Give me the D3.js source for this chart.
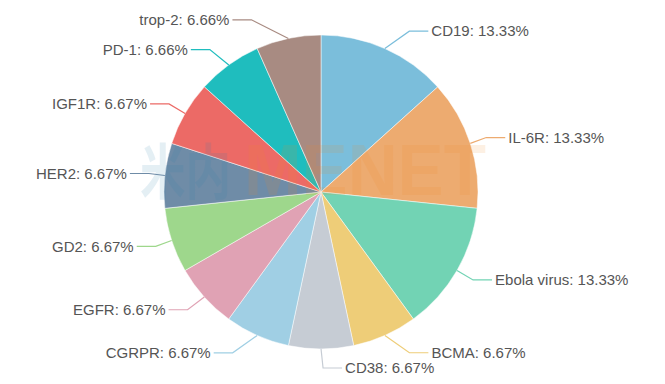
<!DOCTYPE html>
<html>
<head>
<meta charset="utf-8">
<script src="https://cdn.jsdelivr.net/npm/d3@7"></script>
<style>
body { margin: 0; background: #fff; }
svg text { font-family: "Liberation Sans", Arial, sans-serif; }
</style>
</head>
<body>
<script>
var names = ["CD19", "IL-6R", "Ebola virus", "BCMA", "CD38", "CGRPR", "EGFR", "GD2", "HER2", "IGF1R", "PD-1", "trop-2"];
var percents = [13.33, 13.33, 13.33, 6.67, 6.67, 6.67, 6.67, 6.67, 6.67, 6.67, 6.66, 6.66];
var colors = ["#7bbedb", "#edab70", "#72d3b4", "#eecd78", "#c6ccd4", "#a0cfe4",
              "#e0a2b4", "#9ed78c", "#6f8ca7", "#ec6a66", "#1fbdbe", "#a88b82"];

var w = 665, h = 384;
var cx = 321, cy = 192, r = 157;
var len = 19, len2 = 19;

var svg = d3.select("body")
            .append("svg")
            .attr("width", w)
            .attr("height", h);

var data = names.map(function(n, i) { return {name: n, value: percents[i], color: colors[i]}; });

var pie = d3.pie()
            .sort(null)
            .value(function(d) { return d.value; });

var arc = d3.arc()
            .innerRadius(0)
            .outerRadius(r);

var arcs = pie(data);

var g = svg.append("g")
           .attr("transform", "translate(" + cx + "," + cy + ")");

g.selectAll("path")
 .data(arcs)
 .enter()
 .append("path")
 .attr("d", arc)
 .attr("fill", function(d) { return d.data.color; })
 .attr("stroke", "#fff")
 .attr("stroke-width", 0.5);

// label layout, roughly like echarts pie labels
var labels = arcs.map(function(d) {
    var a = (d.startAngle + d.endAngle) / 2;
    var sx = Math.sin(a), sy = -Math.cos(a);
    var dir = sx < -1e-6 ? -1 : 1;
    var p1 = [cx + sx * r, cy + sy * r];
    var p2 = [cx + sx * (r + len), cy + sy * (r + len)];
    var p3 = [p2[0] + dir * len2, p2[1]];
    return {d: d, dir: dir, p1: p1, p2: p2, p3: p3, x: p3[0] + dir * 5, y: p2[1]};
});

function changeX(list, isDown, dir) {
    var last = isDown ? Number.MAX_VALUE : 0;
    list.forEach(function(l) {
        var dy = Math.abs(l.y - cy);
        var dx = (dy < r + len - 0.01)
            ? Math.sqrt((r + len + len2) * (r + len + len2) - dy * dy)
            : Math.abs(l.x - cx);
        if (isDown && dx >= last) dx = last - 10;
        if (!isDown && dx <= last) dx = last + 10;
        l.x = cx + dx * dir;
        last = dx;
    });
}

[1, -1].forEach(function(dir) {
    var side = labels.filter(function(l) { return l.dir === dir; })
                     .sort(function(a, b) { return a.y - b.y; });
    changeX(side.filter(function(l) { return l.y >= cy; }), true, dir);
    changeX(side.filter(function(l) { return l.y < cy; }), false, dir);
});

labels.forEach(function(l) {
    var dist = l.p2[0] - l.p3[0];
    l.p3[0] = l.x - l.dir * 3;
    l.p2[0] = l.p3[0] + dist;
});

// faint watermark
svg.append("text")
   .attr("transform", "translate(140,194) scale(0.76,1)")
   .attr("font-size", 60)
   .attr("font-weight", "bold")
   .attr("fill", "#2b7fae")
   .attr("opacity", 0.12)
   .style("font-family", "'Noto Sans CJK SC'")
   .text("米内");

svg.append("text")
   .attr("transform", "translate(244,195) scale(0.96,1)")
   .attr("font-size", 72)
   .attr("font-weight", "bold")
   .attr("fill", "#f08a24")
   .attr("opacity", 0.12)
   .text("MENET");

svg.selectAll("polyline.lbl")
   .data(labels)
   .enter()
   .append("polyline")
   .attr("class", "lbl")
   .attr("points", function(l) { return [l.p1, l.p2, l.p3].map(function(p) { return p.join(","); }).join(" "); })
   .attr("fill", "none")
   .attr("stroke", function(l) { return l.d.data.color; })
   .attr("stroke-width", 1.2);

svg.selectAll("text.lbl")
   .data(labels)
   .enter()
   .append("text")
   .attr("class", "lbl")
   .attr("x", function(l) { return l.x; })
   .attr("y", function(l) { return l.y; })
   .attr("dy", "0.35em")
   .attr("text-anchor", function(l) { return l.dir > 0 ? "start" : "end"; })
   .attr("font-size", 15)
   .attr("fill", "#555")
   .text(function(l) { return l.d.data.name + ": " + l.d.data.value.toFixed(2) + "%"; });
</script>
</body>
</html>
